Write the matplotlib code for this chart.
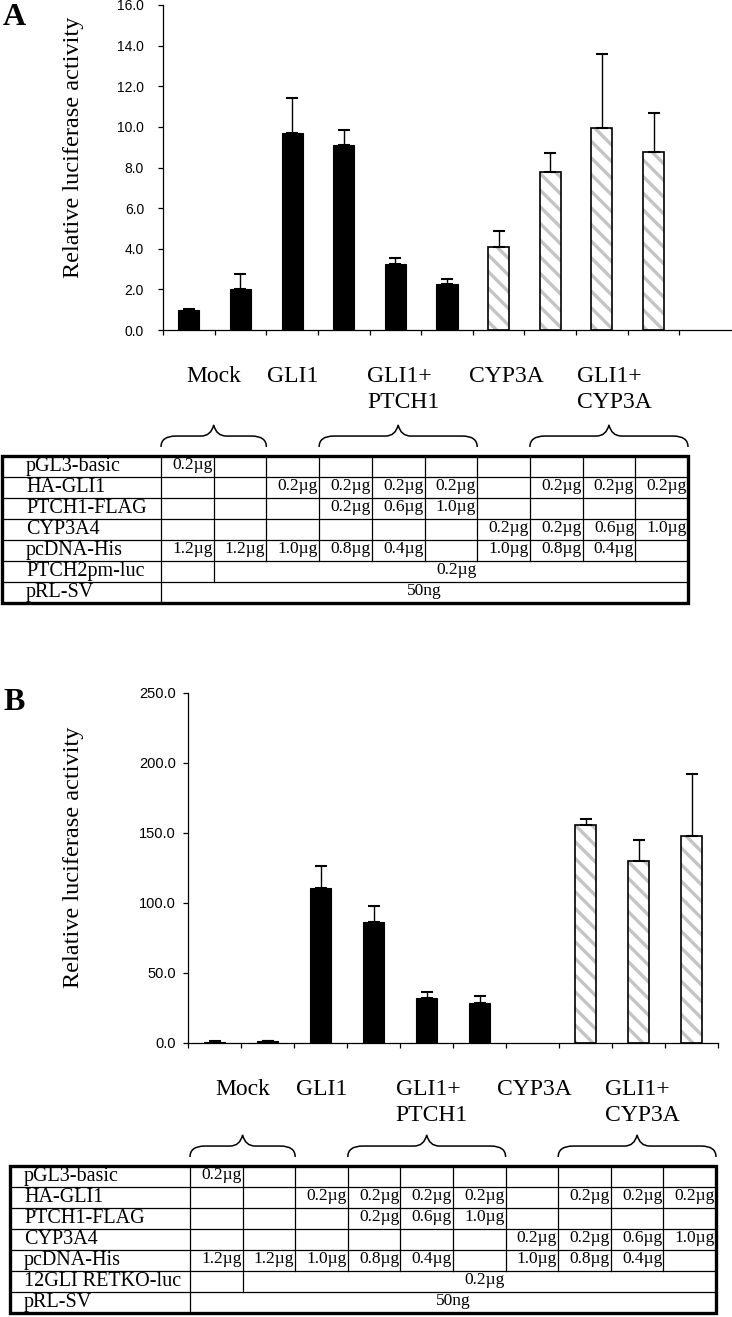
import matplotlib.pyplot as plt
import numpy as np
from matplotlib.path import Path
from matplotlib.patches import PathPatch, Rectangle

plt.rcParams['font.family'] = ['Liberation Serif', 'DejaVu Serif']
plt.rcParams['hatch.linewidth'] = 2.4

# ---- data ----
vals_a = [1.0, 2.0, 9.72, 9.13, 3.25, 2.25, 4.07, 7.80, 9.96, 8.76]
err_a = [0.05, 0.78, 1.68, 0.73, 0.28, 0.25, 0.79, 0.90, 3.63, 1.90]
hatched_a = [False] * 6 + [True] * 4

vals_b = [1.0, 1.1, 111.0, 86.4, 32.1, 28.8, np.nan, 155.9, 129.8, 147.9]
err_b = [0.3, 0.3, 15.7, 11.5, 4.3, 4.8, np.nan, 4.3, 15.0, 44.3]
hatched_b = [False] * 7 + [True] * 3

groups = ['Mock', 'GLI1', 'GLI1+\nPTCH1', 'CYP3A', 'GLI1+\nCYP3A']
brace_spans = [(0, 2), (3, 6), (7, 10)]

rows_a = ['pGL3-basic', 'HA-GLI1', 'PTCH1-FLAG', 'CYP3A4', 'pcDNA-His', 'PTCH2pm-luc', 'pRL-SV']
rows_b = ['pGL3-basic', 'HA-GLI1', 'PTCH1-FLAG', 'CYP3A4', 'pcDNA-His', '12GLI RETKO-luc', 'pRL-SV']
amounts = [
    ['0.2µg', '', '', '', '', '', '', '', '', ''],
    ['', '', '0.2µg', '0.2µg', '0.2µg', '0.2µg', '', '0.2µg', '0.2µg', '0.2µg'],
    ['', '', '', '0.2µg', '0.6µg', '1.0µg', '', '', '', ''],
    ['', '', '', '', '', '', '0.2µg', '0.2µg', '0.6µg', '1.0µg'],
    ['1.2µg', '1.2µg', '1.0µg', '0.8µg', '0.4µg', '', '1.0µg', '0.8µg', '0.4µg', ''],
]
reporter_amt = '0.2µg'
renilla_amt = '50ng'

# ---- layout (pixels of a 732 x 1317 figure) ----
W, H = 732, 1317
fig = plt.figure(figsize=(W / 100, H / 100), dpi=100)


def px_axes(x0, y0, x1, y1):
    return fig.add_axes([x0 / W, 1 - y1 / H, (x1 - x0) / W, (y1 - y0) / H])


def bar_chart(ax, vals, errs, hatched, nslots, ymax, step, pad, tsize):
    x = np.arange(1, len(vals) + 1)
    vals = np.array(vals, dtype=float)
    errs = np.array(errs, dtype=float)
    hat = np.array(hatched)
    solid = ~hat
    ax.bar(x[solid], vals[solid], width=0.41, color='black', edgecolor='black', lw=0.8, zorder=2)
    ax.bar(x[hat], vals[hat], width=0.41, color='white', edgecolor='#c4c4c4', hatch='\\\\', lw=0, zorder=2)
    ax.bar(x[hat], vals[hat], width=0.41, fill=False, edgecolor='black', lw=1.2, zorder=3)
    ok = ~np.isnan(vals)
    ax.errorbar(x[ok], vals[ok], yerr=[np.zeros(ok.sum()), errs[ok]], fmt='none',
                ecolor='black', elinewidth=1.0, capsize=4.5, capthick=1.5, zorder=4)
    ax.set_xlim(0.5, nslots + 0.5)
    ax.set_ylim(0, ymax)
    ticks = np.arange(0, ymax + step / 2, step)
    ax.set_yticks(ticks)
    ax.set_yticklabels([f'{v:.1f}' for v in ticks])
    ax.set_xticks(np.arange(0.5, min(nslots, 10) + 1, 1.0))
    ax.set_xticklabels([])
    for s in ['top', 'right']:
        ax.spines[s].set_visible(False)
    for s in ['left', 'bottom']:
        ax.spines[s].set_linewidth(0.9)
    ax.tick_params(axis='both', direction='out', length=3.6, width=0.9)
    ax.tick_params(axis='y', labelsize=tsize, pad=pad, labelfontfamily='Liberation Sans')


def brace(ax, x0, x1, yb=-0.43, ym=-0.95, yt=-1.48, r=0.28, t=0.24):
    xm = (x0 + x1) / 2
    verts = [(x0, yb), (x0, ym), (x0 + r, ym), (xm - t, ym),
             (xm - 0.05, ym), (xm, yt), (xm + 0.05, ym), (xm + t, ym),
             (x1 - r, ym), (x1, ym), (x1, yb)]
    codes = [Path.MOVETO, Path.CURVE3, Path.CURVE3, Path.LINETO,
             Path.CURVE3, Path.CURVE3, Path.CURVE3, Path.CURVE3,
             Path.LINETO, Path.CURVE3, Path.CURVE3]
    ax.add_patch(PathPatch(Path(verts, codes), fill=False, lw=1.1, edgecolor='black', clip_on=False))


def table(ax, labels, label_w, label_off, label_top):
    ncol, nrow = 10, 7
    ax.set_xlim(-label_w, ncol)
    ax.set_ylim(nrow, 0)
    ax.axis('off')
    for r in range(1, nrow):
        ax.plot([-label_w, ncol], [r, r], color='black', lw=0.9, clip_on=False)
    for c in range(ncol):
        for r in range(nrow):
            if r < 5 or (r == 5 and c <= 1) or (r == 6 and c == 0):
                ax.plot([c, c], [r, r + 1], color='black', lw=0.9, clip_on=False)
    ax.add_patch(Rectangle((-label_w, 0), label_w + ncol, nrow, fill=False, lw=2.4,
                           edgecolor='black', clip_on=False, zorder=5))
    for r, lab in enumerate(labels):
        ax.text(-label_w + label_off, r + 0.5, lab, ha='left', va='center', fontsize=14.5)
    for r, row in enumerate(amounts):
        for c, v in enumerate(row):
            if v:
                ax.text(c + 0.98, r + 0.45, v, ha='right', va='center', fontsize=12.5)
    ax.text(5.6, 5.45, reporter_amt, ha='center', va='center', fontsize=12.5)
    ax.text(5.0, 6.45, renilla_amt, ha='center', va='center', fontsize=12.5)
    for g, gx in zip(groups, [1.0, 2.5, 4.6, 6.55, 8.6]):
        ax.text(gx, label_top, g, ha='center', va='top', multialignment='left',
                fontsize=17, linespacing=1.35)
    for x0, x1 in brace_spans:
        brace(ax, x0, x1)


# panel A
axA = px_axes(163, 5, 731, 330)
bar_chart(axA, vals_a, err_a, hatched_a, 11, 16, 2, 10, 10)
axA.set_ylabel('Relative luciferase activity', fontsize=17.5)
axA.yaxis.set_label_coords(84 / W, 1 - 147.5 / H, transform=fig.transFigure)
fig.text(3 / W, 1 - 25 / H, 'A', fontsize=23, fontweight='bold', ha='left', va='baseline')

tA = px_axes(2, 456, 688, 603)
table(tA, rows_a, 159 / 52.7, 24 / 52.7, -4.3)

# panel B
axB = px_axes(188, 693, 718, 1043)
bar_chart(axB, vals_b, err_b, hatched_b, 10, 250, 50, 5, 10.5)
axB.set_ylabel('Relative luciferase activity', fontsize=17.5)
axB.yaxis.set_label_coords(84 / W, 1 - 857.5 / H, transform=fig.transFigure)
fig.text(3 / W, 1 - 710 / H, 'B', fontsize=23, fontweight='bold', ha='left', va='baseline')

tB = px_axes(10, 1166, 716, 1313)
table(tB, rows_b, 180 / 52.6, 14 / 52.6, -4.15)

fig.savefig('out.png', dpi=100)
